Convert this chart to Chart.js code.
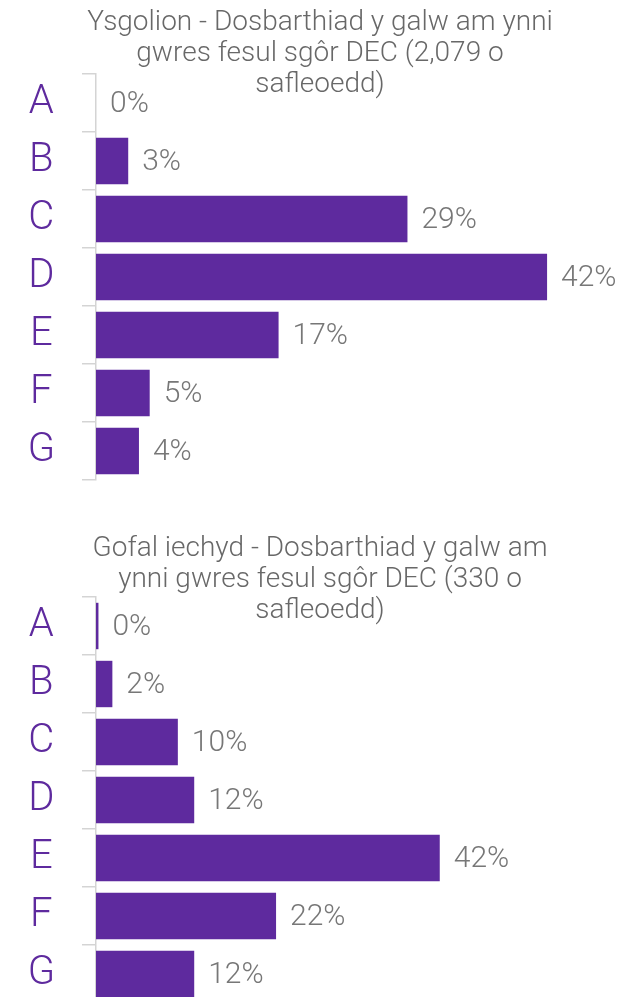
<!DOCTYPE html>
<html>
<head>
<meta charset="utf-8">
<script src="https://cdn.jsdelivr.net/npm/chart.js@4/dist/chart.umd.min.js"></script>
<style>
  html, body { margin: 0; padding: 0; background: #fff; overflow: hidden; }
  body { width: 640px; height: 997px; position: relative; }
  .box { position: absolute; left: 0; width: 640px; }
</style>
</head>
<body>
<div class="box" style="top:0;height:531px"><canvas id="schools"></canvas></div>
<div class="box" style="top:500px;height:554px"><canvas id="health"></canvas></div>
<script>
const grades = ['A', 'B', 'C', 'D', 'E', 'F', 'G'];
const schoolShares = [0, 3, 29, 42, 17, 5, 4];
const healthShares = [0.3, 2, 10, 12, 42, 22, 12];
const schoolTitle = ['Ysgolion - Dosbarthiad y galw am ynni', 'gwres fesul sgôr DEC (2,079 o', 'safleoedd)'];
const healthTitle = ['Gofal iechyd - Dosbarthiad y galw am', 'ynni gwres fesul sgôr DEC (330 o', 'safleoedd)'];

const purple = '#5e2a9e';
const fontFamily = 'Roboto, "Liberation Sans", sans-serif';

// title drawn by hand because it overlaps the top of the plot area
const titleLines = {
  id: 'titleLines',
  afterDraw(chart, args, opts) {
    const ctx = chart.ctx;
    ctx.save();
    ctx.fillStyle = '#686868';
    ctx.font = '300 28px ' + fontFamily;
    ctx.textAlign = 'center';
    ctx.textBaseline = 'middle';
    opts.lines.forEach((line, i) => {
      ctx.fillText(line, chart.width / 2, opts.top + i * 31);
    });
    ctx.restore();
  }
};

const valueLabels = {
  id: 'valueLabels',
  afterDatasetsDraw(chart) {
    const ctx = chart.ctx;
    const meta = chart.getDatasetMeta(0);
    const data = chart.data.datasets[0].data;
    ctx.save();
    ctx.fillStyle = '#777777';
    ctx.font = '300 30px ' + fontFamily;
    ctx.textAlign = 'left';
    ctx.textBaseline = 'middle';
    meta.data.forEach((bar, i) => {
      ctx.fillText(Math.round(data[i]) + '%', bar.x + 14, bar.y + 1);
    });
    ctx.restore();
  }
};

function drawGraph(canvasId, values, title, titleTop, xMax, pad) {
  new Chart(document.getElementById(canvasId), {
    type: 'bar',
    data: {
      labels: grades,
      datasets: [{
        data: values,
        backgroundColor: purple,
        borderWidth: 0,
        categoryPercentage: 1,
        barPercentage: 0.8
      }]
    },
    options: {
      indexAxis: 'y',
      responsive: true,
      maintainAspectRatio: false,
      animation: false,
      layout: { padding: pad },
      scales: {
        x: { display: false, min: 0, max: xMax },
        y: {
          afterFit: scale => { scale.width = 96; },
          border: { color: '#d4d4d4', width: 1.5 },
          grid: { offset: true, drawOnChartArea: false, tickLength: 14, color: '#d4d4d4', lineWidth: 1.5 },
          ticks: {
            crossAlign: 'center',
            padding: 27,
            color: purple,
            font: { family: fontFamily, size: 40, weight: '300' }
          }
        }
      },
      plugins: {
        legend: { display: false },
        tooltip: { enabled: false },
        titleLines: { lines: title, top: titleTop }
      }
    },
    plugins: [titleLines, valueLabels]
  });
}

// the tick padding plus half a label sets the bottom gap (about 51px)
drawGraph('schools', schoolShares, schoolTitle, 23, 50, { top: 74, bottom: 10, left: 0, right: 7 });
drawGraph('health', healthShares, healthTitle, 49, 65, { top: 97, bottom: 10, left: 0, right: 12 });
</script>
</body>
</html>
